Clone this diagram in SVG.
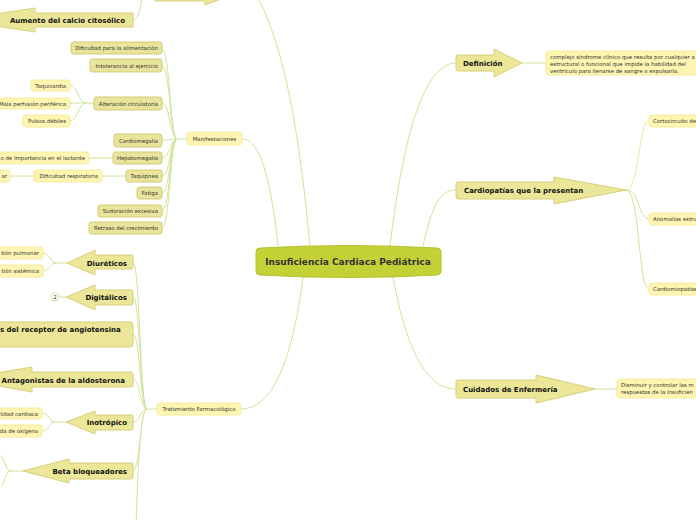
<svg xmlns="http://www.w3.org/2000/svg" width="696" height="520" viewBox="0 0 696 520">
<style>
.c{fill:none;stroke:#d3e29a;stroke-width:1}
.cy{fill:none;stroke:#f1ea9c;stroke-width:1}
.a{fill:#ebe698;stroke:#d8d07a;stroke-width:1}
.m{fill:#e8e49b;stroke:#d3cc77;stroke-width:1}
.l{fill:#fdf5b1;stroke:#f6ec9e;stroke-width:1}
.t{font-family:"DejaVu Sans",Verdana,sans-serif;fill:#333}
.b{font-weight:bold;font-size:7px;fill:#111}
.s{font-size:5.4px}
.s2{font-size:5.4px}
</style>
<rect width="696" height="520" fill="#ffffff"/>
<g id="connectors">
<path class="c" d="M310,246 C300,140 285,40 252,-12"/>
<path class="c" d="M278,246 C270,170 258,139 242,139"/>
<path class="c" d="M390,246 C405,120 428,63 456,63"/>
<path class="c" d="M423,246 C432,205 440,190 456,190"/>
<path class="c" d="M303,277 C290,380 265,409 241,409"/>
<path class="c" d="M393,277 C410,370 435,389 456,389"/>
<path class="c" d="M133,20 C141,20 139,0 146,-10"/>
<path class="c" d="M522,63 L546,63"/>
<path class="cy" d="M626,190 C640,190 638,121 649,121"/>
<path class="c" d="M626,190 C640,190 638,219 649,219"/>
<path class="c" d="M626,190 C640,190 638,289 649,289"/>
<path class="c" d="M595,389 L617,389"/>
<path class="c" d="M187,139 L177,139"/>
<path class="c" d="M177,139 C170,139 170,49 162,49"/>
<path class="c" d="M177,139 C170,139 170,66 162,66"/>
<path class="c" d="M177,139 C170,139 170,103 162,103"/>
<path class="c" d="M177,139 C170,139 170,140 162,140"/>
<path class="c" d="M177,139 C170,139 170,158 162,158"/>
<path class="c" d="M177,139 C170,139 170,176 162,176"/>
<path class="c" d="M177,139 C170,139 170,193 162,193"/>
<path class="c" d="M177,139 C170,139 170,211 162,211"/>
<path class="c" d="M177,139 C170,139 170,228 162,228"/>
<path class="c" d="M95,103 L86,103"/>
<path class="c" d="M86,103 C78,103 78,85 70,85"/>
<path class="c" d="M86,103 L70,103"/>
<path class="c" d="M86,103 C78,103 78,121 70,121"/>
<path class="c" d="M113,158 L89,158"/>
<path class="c" d="M126,176 L102,176"/>
<path class="c" d="M34,176 L10,176"/>
<path class="c" d="M157,409 L147,409"/>
<path class="c" d="M147,409 C140,409 140,262 133,262"/>
<path class="c" d="M147,409 C140,409 140,297 133,297"/>
<path class="c" d="M147,409 C140,409 140,334 133,334"/>
<path class="c" d="M147,409 C140,409 140,379 133,379"/>
<path class="c" d="M147,409 C140,409 140,422 133,422"/>
<path class="c" d="M147,409 C140,409 140,471 133,471"/>
<path class="c" d="M147,409 C140,409 138,470 136,525"/>
<path class="c" d="M67,263 L56,263 C50,263 50,253 43,253"/>
<path class="c" d="M56,263 C50,263 50,271 43,271"/>
<path class="c" d="M66,297 L59,297"/>
<path class="c" d="M66,422 L55,422 C49,422 49,413 42,413"/>
<path class="c" d="M55,422 C49,422 49,431 42,431"/>
<path class="c" d="M23,471 L11,471 C4,471 6,455 -2,455"/>
<path class="c" d="M11,471 C4,471 6,487 -2,487"/>
</g>
<g id="center">
<path d="M260,248 Q348,243 437,248 Q441,248 441,252 L441,271 Q441,275 437,275 Q348,280 260,275 Q256,275 256,271 L256,252 Q256,248 260,248 Z" fill="#c3d136" stroke="#b3c22e"/>
<text class="t" x="348" y="265" text-anchor="middle" font-size="9px" font-weight="bold" fill="#111">Insuficiencia Cardiaca Pediátrica</text>
</g>
<g id="top-arrow">
<path class="a" d="M155,-20 L155,1 L205,1 L205,5 L240,-8 L205,-22 Z"/>
</g>
<g id="aumento">
<path class="a" d="M133,13 L133,27 L35,27 L35,32 L-45,20 L35,8 L35,13 Z"/>
<text class="t b" x="125" y="23" text-anchor="end">Aumento del calcio citosólico</text>
</g>
<g id="definicion">
<path class="a" d="M458,55 L494,55 L494,49 L522,63 L494,77 L494,71 L458,71 Q456,71 456,69 L456,57 Q456,55 458,55 Z"/>
<text class="t b" x="463" y="65.5">Definición</text>
</g>
<g id="definicion-texto">
<rect class="l" x="546" y="51" width="160" height="24" rx="3"/>
<text class="t s" x="550" y="59">complejo síndrome clínico que resulta por cualquier a</text>
<text class="t s" x="550" y="66">estructural o funcional que impide la habilidad del</text>
<text class="t s" x="550" y="73">ventrículo para llenarse de sangre o expulsarla.</text>
</g>
<g id="cardiopatias">
<path class="a" d="M458,182 L554,182 L554,177 L626,190 L554,204 L554,199 L458,199 Q456,199 456,197 L456,184 Q456,182 458,182 Z"/>
<text class="t b" x="464" y="193">Cardiopatías que la presentan</text>
</g>
<g id="cortocircuito">
<rect class="l" x="649" y="115" width="60" height="12" rx="3"/>
<text class="t s" x="653" y="123">Cortocircuito de</text>
</g>
<g id="anomalias">
<rect class="l" x="649" y="213" width="60" height="12" rx="3"/>
<text class="t s" x="653" y="221">Anomalías estru</text>
</g>
<g id="cardiomiopatias">
<rect class="l" x="649" y="283" width="60" height="12" rx="3"/>
<text class="t s" x="653" y="291">Cardiomiopatías</text>
</g>
<g id="cuidados">
<path class="a" d="M458,380 L536,380 L536,375 L595,389 L536,403 L536,398 L458,398 Q456,398 456,396 L456,382 Q456,380 458,380 Z"/>
<text class="t b" x="463" y="391.5">Cuidados de Enfermería</text>
</g>
<g id="cuidados-texto">
<rect class="l" x="617" y="379" width="90" height="19" rx="3"/>
<text class="t s" x="621" y="387">Disminuir y controlar las m</text>
<text class="t s" x="621" y="394">respuestas de la Insuficien</text>
</g>
<g id="manifestaciones">
<rect class="l" x="187" y="132" width="55" height="13" rx="3"/>
<text class="t s2" x="214.5" y="140.5" text-anchor="middle">Manifestaciones</text>
</g>
<g id="alimentacion">
<rect class="m" x="71" y="42" width="91" height="12" rx="2.5"/>
<text class="t s" x="158" y="50" text-anchor="end">Dificultad para la alimentación</text>
</g>
<g id="ejercicio">
<rect class="m" x="90" y="59" width="72" height="13" rx="2.5"/>
<text class="t s" x="158" y="67.5" text-anchor="end">Intolerancia al ejercicio</text>
</g>
<g id="circulatoria">
<rect class="m" x="94" y="97" width="68" height="13" rx="2.5"/>
<text class="t s" x="158" y="105.5" text-anchor="end">Alteración circulatoria</text>
</g>
<g id="taquicardia">
<rect class="l" x="31" y="80" width="39" height="11" rx="2.5"/>
<text class="t s" x="66" y="87.5" text-anchor="end">Taquicardia</text>
</g>
<g id="perfusion">
<rect class="l" x="-4" y="98" width="74" height="11" rx="2.5"/>
<text class="t s" x="66" y="105.5" text-anchor="end">Mala perfusión periférica</text>
</g>
<g id="pulsos">
<rect class="l" x="23" y="115" width="47" height="12" rx="2.5"/>
<text class="t s" x="66" y="123" text-anchor="end">Pulsos débiles</text>
</g>
<g id="cardiomegalia">
<rect class="m" x="114" y="134" width="48" height="13" rx="2.5"/>
<text class="t s" x="158" y="142.5" text-anchor="end">Cardiomegalia</text>
</g>
<g id="hepatomegalia">
<rect class="m" x="113" y="152" width="49" height="12" rx="2.5"/>
<text class="t s" x="158" y="160" text-anchor="end">Hepatomegalia</text>
</g>
<g id="lactante">
<rect class="l" x="-4" y="152" width="93" height="12" rx="2.5"/>
<text class="t s" x="85" y="160" text-anchor="end">o de Importancia en el lactante</text>
</g>
<g id="taquipnea">
<rect class="m" x="126" y="170" width="36" height="12" rx="2.5"/>
<text class="t s" x="158" y="178" text-anchor="end">Taquipnea</text>
</g>
<g id="respiratoria">
<rect class="l" x="34" y="170" width="68" height="12" rx="2.5"/>
<text class="t s" x="98" y="178" text-anchor="end">Dificultad respiratoria</text>
</g>
<g id="ar">
<rect class="l" x="-4" y="170" width="14" height="12" rx="2.5"/>
<text class="t s" x="7" y="178" text-anchor="end">ar</text>
</g>
<g id="fatiga">
<rect class="m" x="137" y="187" width="25" height="12" rx="2.5"/>
<text class="t s" x="158" y="195" text-anchor="end">Fatiga</text>
</g>
<g id="sudoracion">
<rect class="m" x="98" y="205" width="64" height="12" rx="2.5"/>
<text class="t s" x="158" y="213" text-anchor="end">Sudoración excesiva</text>
</g>
<g id="crecimiento">
<rect class="m" x="89" y="222" width="73" height="12" rx="2.5"/>
<text class="t s" x="158" y="230" text-anchor="end">Retraso del crecimiento</text>
</g>
<g id="tratamiento">
<rect class="l" x="157" y="403" width="84" height="12" rx="3"/>
<text class="t s2" x="199" y="411" text-anchor="middle">Tratamiento Farmacológico</text>
</g>
<g id="diureticos">
<path class="a" d="M131,255 L95,255 L95,250 L67,263 L95,275 L95,269 L131,269 Q133,269 133,267 L133,257 Q133,255 131,255 Z"/>
<text class="t b" x="127" y="265.5" text-anchor="end">Diuréticos</text>
</g>
<g id="pulmonar">
<rect class="l" x="-4" y="247" width="47" height="12" rx="2.5"/>
<text class="t s" x="39" y="255" text-anchor="end">tión pulmonar</text>
</g>
<g id="sistemica">
<rect class="l" x="-4" y="265" width="47" height="12" rx="2.5"/>
<text class="t s" x="39" y="273" text-anchor="end">tión sistémica</text>
</g>
<g id="digitalicos">
<path class="a" d="M131,290 L95,290 L95,285 L66,297 L95,310 L95,305 L131,305 Q133,305 133,303 L133,292 Q133,290 131,290 Z"/>
<text class="t b" x="127" y="300" text-anchor="end">Digitálicos</text>
<circle cx="55" cy="297" r="4" fill="#fff" stroke="#d3e29a"/>
<text class="t" x="55" y="299" font-size="5px" text-anchor="middle" fill="#bbb">2</text>
</g>
<g id="angiotensina">
<rect class="a" x="-4" y="322" width="137" height="25" rx="3"/>
<text class="t b" x="0" y="332">s del receptor de angiotensina</text>
</g>
<g id="aldosterona">
<path class="a" d="M131,372 L32,372 L32,367 L-40,379 L32,392 L32,387 L131,387 Q133,387 133,385 L133,374 Q133,372 131,372 Z"/>
<text class="t b" x="125" y="382.5" text-anchor="end">Antagonistas de la aldosterona</text>
</g>
<g id="inotropico">
<path class="a" d="M131,415 L95,415 L95,411 L66,422 L95,434 L95,430 L131,430 Q133,430 133,428 L133,417 Q133,415 131,415 Z"/>
<text class="t b" x="127" y="424.5" text-anchor="end">Inotrópico</text>
</g>
<g id="cardiaca">
<rect class="l" x="-4" y="408" width="46" height="11" rx="2.5"/>
<text class="t s" x="38" y="415.5" text-anchor="end">lidad cardiaca</text>
</g>
<g id="oxigeno">
<rect class="l" x="-4" y="425" width="46" height="12" rx="2.5"/>
<text class="t s" x="38" y="433" text-anchor="end">da de oxígeno</text>
</g>
<g id="beta">
<path class="a" d="M131,463 L69,463 L69,459 L23,471 L69,483 L69,479 L131,479 Q133,479 133,477 L133,465 Q133,463 131,463 Z"/>
<text class="t b" x="127" y="473.5" text-anchor="end">Beta bloqueadores</text>
</g>
</svg>
